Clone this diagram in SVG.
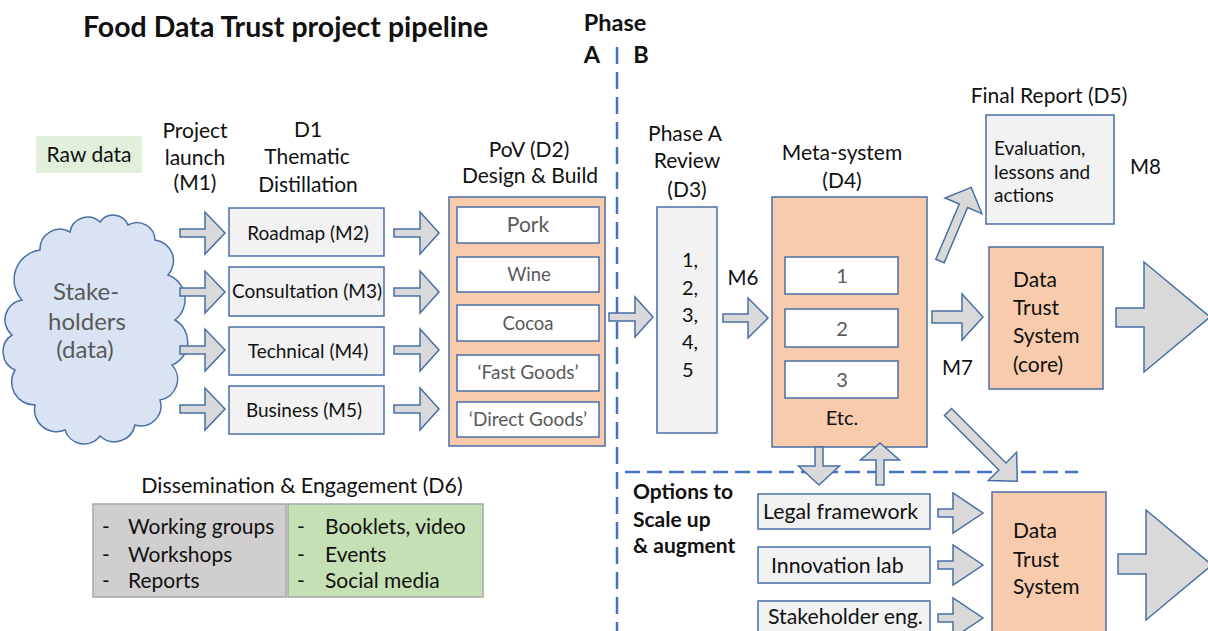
<svg xmlns="http://www.w3.org/2000/svg" width="1208" height="631" viewBox="0 0 1208 631">
<style>
text{font-family:Lato,"Open Sans","Liberation Sans",sans-serif;fill:#111}
.c{text-anchor:middle}
.b{font-weight:bold}
.g{fill:#595959}
.box{stroke:#4A6FA5;stroke-width:1.5}
.gray{fill:#F2F2F2}
.or{fill:#F8CBAD}
.wh{fill:#fff}
.arr{fill:#D9D9D9;stroke:#4A6FA5;stroke-width:1.5;stroke-linejoin:miter}
.dash{stroke:#4472C4;stroke-width:2.5;fill:none}
</style>
<rect width="1208" height="631" fill="#fff"/>

<g id="title">
<text x="83" y="37" class="b" font-size="28.5">Food Data Trust project pipeline</text>
</g>

<g id="phase-labels">
<text x="615" y="31" class="b c" font-size="23.5">Phase</text>
<text x="592" y="63" class="b c" font-size="23.5">A</text>
<text x="641" y="63" class="b c" font-size="23.5">B</text>
</g>

<g id="separators">
<line class="dash" x1="617" y1="47" x2="617" y2="631" stroke-dasharray="17 8"/>
<line class="dash" x1="625" y1="472" x2="1078" y2="472" stroke-dasharray="15 7"/>
</g>

<g id="raw-data">
<rect x="36" y="136" width="106" height="37" fill="#E2EFDA"/>
<text x="89" y="162" class="c" font-size="21">Raw data</text>
</g>

<g id="stakeholders">
<path d="M22,300 A30,30 0 0 1 40,250 A20,20 0 0 1 70,232 A18,18 0 0 1 100,222 A16,16 0 0 1 128,225 A18,18 0 0 1 155,240 A21,21 0 0 1 168,275 A26,26 0 0 1 175,320 A25,25 0 0 1 172,365 A21,21 0 0 1 160,400 A20,20 0 0 1 135,425 A21,21 0 0 1 100,436 A20,20 0 0 1 65,430 A22,22 0 0 1 35,405 A23,23 0 0 1 15,370 A20,20 0 0 1 12,335 A20,20 0 0 1 22,300 Z" fill="#DAE3F3" stroke="#4A6FA5" stroke-width="1.5"/>
<text x="86" y="300" class="c g" font-size="24">Stake-</text>
<text x="87" y="330" class="c g" font-size="24">holders</text>
<text x="85" y="358" class="c g" font-size="24">(data)</text>
</g>

<g id="project-launch">
<text x="195" y="138" class="c" font-size="21">Project</text>
<text x="195" y="165" class="c" font-size="21">launch</text>
<text x="195" y="190" class="c" font-size="21">(M1)</text>
</g>

<g id="d1-label">
<text x="308" y="137" class="c" font-size="21">D1</text>
<text x="307" y="164" class="c" font-size="21">Thematic</text>
<text x="308" y="192" class="c" font-size="21">Distillation</text>
</g>

<g id="roadmap">
<rect x="229" y="208" width="155" height="48" class="box gray"/>
<text x="308" y="240" class="c" font-size="19">Roadmap (M2)</text>
</g>
<g id="consultation">
<rect x="229" y="267" width="155" height="49" class="box gray"/>
<text x="307" y="298" class="c" font-size="19">Consultation (M3)</text>
</g>
<g id="technical">
<rect x="229" y="327" width="155" height="48" class="box gray"/>
<text x="308" y="358" class="c" font-size="19">Technical (M4)</text>
</g>
<g id="business">
<rect x="229" y="386" width="155" height="48" class="box gray"/>
<text x="304" y="417" class="c" font-size="19">Business (M5)</text>
</g>

<g id="pov">
<text x="529" y="157" class="c" font-size="21">PoV (D2)</text>
<text x="530" y="183" class="c" font-size="21">Design &amp; Build</text>
<rect x="449" y="197" width="156" height="249" class="box or"/>
<rect x="457" y="207" width="142" height="36" class="box wh"/>
<text x="528" y="232" class="c g" font-size="21">Pork</text>
<rect x="457" y="257" width="142" height="35" class="box wh"/>
<text x="529" y="281" class="c g" font-size="18.5">Wine</text>
<rect x="457" y="305" width="142" height="36" class="box wh"/>
<text x="528" y="330" class="c g" font-size="18.5">Cocoa</text>
<rect x="457" y="355" width="142" height="36" class="box wh"/>
<text x="528" y="379" class="c g" font-size="19">‘Fast Goods’</text>
<rect x="457" y="402" width="142" height="35" class="box wh"/>
<text x="528" y="426" class="c g" font-size="19">‘Direct Goods’</text>
</g>

<g id="phase-a-review">
<text x="685" y="141" class="c" font-size="21">Phase A</text>
<text x="687" y="168" class="c" font-size="21">Review</text>
<text x="687" y="197" class="c" font-size="21">(D3)</text>
<rect x="657" y="207" width="60" height="226" class="box gray"/>
<text x="682" y="267" font-size="20">1,</text>
<text x="682" y="295" font-size="20">2,</text>
<text x="682" y="322" font-size="20">3,</text>
<text x="682" y="349" font-size="20">4,</text>
<text x="682" y="377" font-size="20">5</text>
</g>

<g id="m6-label">
<text x="743" y="285" class="c" font-size="20.5">M6</text>
</g>

<g id="meta-system">
<text x="842" y="160" class="c" font-size="21">Meta-system</text>
<text x="842" y="188" class="c" font-size="21">(D4)</text>
<rect x="772" y="197" width="155" height="250" class="box or"/>
<rect x="785" y="257" width="113" height="37" class="box wh"/>
<text x="842" y="283" class="c g" font-size="20">1</text>
<rect x="785" y="309" width="113" height="38" class="box wh"/>
<text x="842" y="336" class="c g" font-size="20">2</text>
<rect x="785" y="361" width="113" height="37" class="box wh"/>
<text x="842" y="387" class="c g" font-size="20">3</text>
<text x="842" y="425" class="c" font-size="20">Etc.</text>
</g>

<g id="final-report">
<text x="1049" y="103" class="c" font-size="21">Final Report (D5)</text>
<rect x="986" y="115" width="128" height="109" class="box gray"/>
<text x="994" y="155" font-size="19">Evaluation,</text>
<text x="994" y="179" font-size="19">lessons and</text>
<text x="994" y="202" font-size="19">actions</text>
</g>

<g id="m8-label">
<text x="1130" y="174" font-size="20.5">M8</text>
</g>
<g id="m7-label">
<text x="942" y="375" font-size="20.5">M7</text>
</g>

<g id="dts-core">
<rect x="989" y="247" width="114" height="142" class="box or"/>
<text x="1013" y="287" font-size="21">Data</text>
<text x="1013" y="315" font-size="21">Trust</text>
<text x="1013" y="343" font-size="21">System</text>
<text x="1013" y="372" font-size="21">(core)</text>
</g>

<g id="dissemination">
<text x="302" y="493" class="c" font-size="21.4">Dissemination &amp; Engagement (D6)</text>
<rect x="93" y="504" width="193" height="93" fill="#D0CECE" stroke="#A6A6A6" stroke-width="1.5"/>
<rect x="288" y="504" width="195" height="93" fill="#C5E0B4" stroke="#A6A6A6" stroke-width="1.5"/>
<text x="102" y="534" font-size="21">-</text>
<text x="128" y="534" font-size="21">Working groups</text>
<text x="102" y="562" font-size="21">-</text>
<text x="128" y="562" font-size="21">Workshops</text>
<text x="102" y="588" font-size="21">-</text>
<text x="128" y="588" font-size="21">Reports</text>
<text x="297" y="534" font-size="21">-</text>
<text x="325" y="534" font-size="21">Booklets, video</text>
<text x="297" y="562" font-size="21">-</text>
<text x="325" y="562" font-size="21">Events</text>
<text x="297" y="588" font-size="21">-</text>
<text x="325" y="588" font-size="21">Social media</text>
</g>

<g id="options">
<text x="633" y="499" class="b" font-size="21">Options to</text>
<text x="633" y="527" class="b" font-size="21">Scale up</text>
<text x="633" y="553" class="b" font-size="21">&amp; augment</text>
</g>

<g id="legal-framework">
<rect x="758" y="494" width="172" height="35" class="box gray"/>
<text x="763" y="519" font-size="21.3">Legal framework</text>
</g>
<g id="innovation-lab">
<rect x="758" y="547" width="172" height="36" class="box gray"/>
<text x="771" y="573" font-size="21.3">Innovation lab</text>
</g>
<g id="stakeholder-eng">
<rect x="758" y="601" width="172" height="36" class="box gray"/>
<text x="768" y="624" font-size="21.3">Stakeholder eng.</text>
</g>

<g id="dts">
<rect x="992" y="492" width="114" height="150" class="box or"/>
<text x="1013" y="538" font-size="21">Data</text>
<text x="1013" y="567" font-size="21">Trust</text>
<text x="1013" y="594" font-size="21">System</text>
</g>

<g id="connectors">
<path class="arr" d="M180,229 L205,229 L205,212 L225,233 L205,254 L205,237 L180,237 Z"/>
<path class="arr" d="M180,288 L205,288 L205,271 L225,292 L205,313 L205,296 L180,296 Z"/>
<path class="arr" d="M180,346 L205,346 L205,329 L225,350 L205,371 L205,354 L180,354 Z"/>
<path class="arr" d="M180,405 L205,405 L205,388 L225,409 L205,430 L205,413 L180,413 Z"/>
<path class="arr" d="M394,229 L420,229 L420,212 L439,233 L420,254 L420,237 L394,237 Z"/>
<path class="arr" d="M394,288 L420,288 L420,271 L439,292 L420,313 L420,296 L394,296 Z"/>
<path class="arr" d="M394,346 L420,346 L420,329 L439,350 L420,371 L420,354 L394,354 Z"/>
<path class="arr" d="M394,405 L420,405 L420,388 L439,409 L420,430 L420,413 L394,413 Z"/>
<path class="arr" d="M609,313 L635,313 L635,297 L653,317 L635,337 L635,321 L609,321 Z"/>
<path class="arr" d="M723,314 L748,314 L748,298 L768,318 L748,338 L748,322 L723,322 Z"/>
<path class="arr" d="M932,311 L962,311 L962,294 L983,317 L962,340 L962,323 L932,323 Z"/>
<path class="arr" transform="translate(940,261) rotate(-67)" d="M0,-4.5 L60,-4.5 L60,-20 L80,0 L60,20 L60,4.5 L0,4.5 Z"/>
<path class="arr" transform="translate(948,412) rotate(45)" d="M0,-5 L77,-5 L77,-20 L98,0 L77,20 L77,5 L0,5 Z"/>
<path class="arr" d="M1116,308 L1144,308 L1144,262 L1210,317 L1144,372 L1144,327 L1116,327 Z"/>
<path class="arr" d="M1118,554 L1146,554 L1146,510 L1212,565 L1146,620 L1146,574 L1118,574 Z"/>
<path class="arr" d="M815,447 L823,447 L823,466 L839.5,466 L819,485 L798.5,466 L815,466 Z"/>
<path class="arr" d="M876,485 L884,485 L884,460 L899.5,460 L880,443 L860.5,460 L876,460 Z"/>
<path class="arr" d="M938,509 L953,509 L953,493 L983,513 L953,533 L953,517 L938,517 Z"/>
<path class="arr" d="M938,561 L953,561 L953,545 L983,565 L953,585 L953,569 L938,569 Z"/>
<path class="arr" d="M938,614 L953,614 L953,598 L983,618 L953,638 L953,622 L938,622 Z"/>
</g>
</svg>
